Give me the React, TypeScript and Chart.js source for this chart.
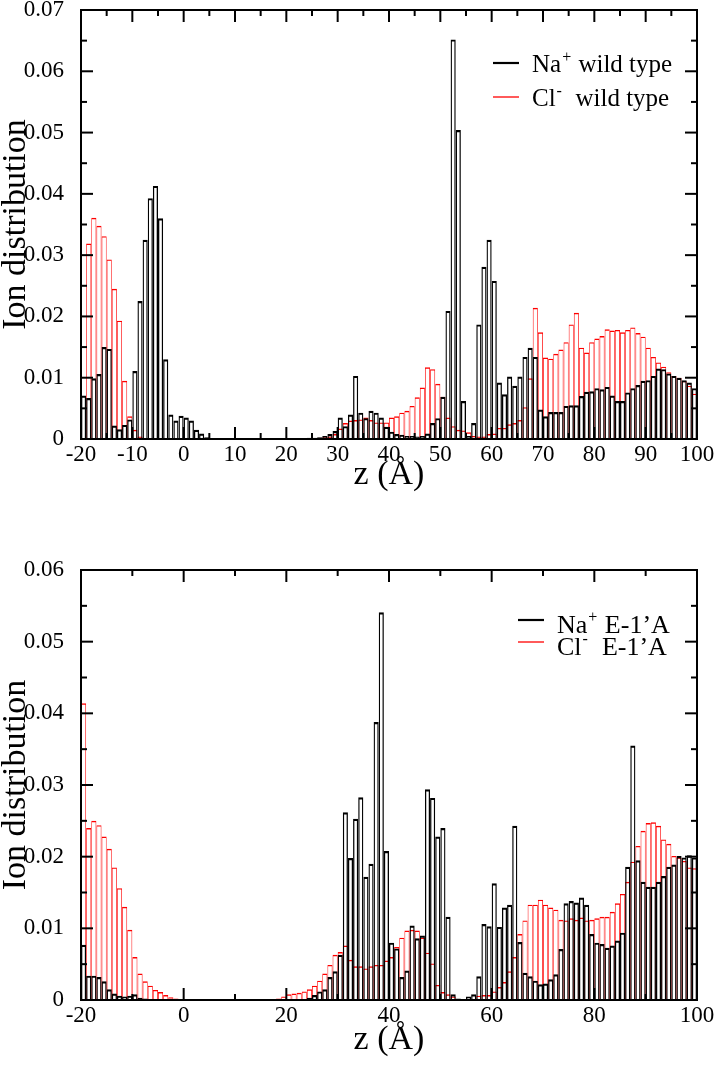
import React, { useEffect, useRef } from "react";
import { Chart, registerables } from "chart.js";

Chart.register(...registerables);

const FONT = "'Liberation Serif', 'Times New Roman', Times, serif";

// Histogram bins: 1 Å wide, first bin starts at z = -20
const BIN_START = -20;
const BIN_WIDTH = 1;

// Top panel (wild type), z = -20 ... 99
const TOP_NA = [
  0.0071, 0.0067, 0.0099, 0.0106, 0.0150, 0.0147, 0.0022, 0.0016, 0.0023, 0.0032,
  0.0111, 0.0225, 0.0325, 0.0393, 0.0413, 0.0360, 0.0130, 0.0040, 0.0030, 0.0038,
  0.0035, 0.0030, 0.0015, 0.0009, 0.0003, 0, 0, 0, 0, 0,
  0, 0, 0, 0, 0, 0, 0, 0, 0, 0,
  0, 0, 0, 0, 0.0002, 0.0002, 0.0003, 0.0005, 0.0008, 0.0013,
  0.0035, 0.0021, 0.0040, 0.0103, 0.0043, 0.0034, 0.0046, 0.0043, 0.0035, 0.0020,
  0.0012, 0.0008, 0.0007, 0.0005, 0.0005, 0.0004, 0.0005, 0.0009, 0.0026, 0.0034,
  0.0069, 0.0209, 0.0652, 0.0504, 0.0062, 0.0005, 0.0026, 0.0187, 0.0281, 0.0325,
  0.0258, 0.0092, 0.0073, 0.0102, 0.0087, 0.0102, 0.0134, 0.0149, 0.0134, 0.0048,
  0.0037, 0.0044, 0.0044, 0.0044, 0.0054, 0.0055, 0.0055, 0.0070, 0.0077, 0.0078,
  0.0083, 0.0081, 0.0085, 0.0071, 0.0062, 0.0062, 0.0076, 0.0083, 0.0088, 0.0095,
  0.0096, 0.0103, 0.0115, 0.0114, 0.0107, 0.0103, 0.0100, 0.0096, 0.0092, 0.0083,
];

const TOP_CL = [
  0, 0.0319, 0.0361, 0.0348, 0.0331, 0.0293, 0.0245, 0.0193, 0.0095, 0.0037,
  0.0015, 0.0004, 0, 0, 0, 0, 0, 0, 0, 0,
  0, 0, 0, 0, 0, 0, 0, 0, 0, 0,
  0, 0, 0, 0, 0, 0, 0, 0, 0, 0,
  0, 0, 0, 0, 0, 0.0001, 0.0002, 0.0003, 0.0004, 0.0008,
  0.0017, 0.0026, 0.0030, 0.0031, 0.0032, 0.0035, 0.0031, 0.0027, 0.0027, 0.0027,
  0.0035, 0.0037, 0.0043, 0.0046, 0.0054, 0.0068, 0.0084, 0.0117, 0.0114, 0.0090,
  0.0069, 0.0035, 0.0021, 0.0015, 0.0014, 0.0011, 0.0005, 0.0004, 0.0004, 0.0008,
  0.0009, 0.0018, 0.0018, 0.0024, 0.0026, 0.0031, 0.0052, 0.0099, 0.0214, 0.0174,
  0.0133, 0.0131, 0.0139, 0.0146, 0.0158, 0.0187, 0.0206, 0.0149, 0.0141, 0.0158,
  0.0164, 0.0168, 0.0179, 0.0177, 0.0178, 0.0174, 0.0178, 0.0182, 0.0173, 0.0167,
  0.0149, 0.0134, 0.0125, 0.0118, 0.0109, 0.0103, 0.0100, 0.0095, 0.0087, 0.0074,
];

// Bottom panel (E-1'A mutant), z = -20 ... 99
const BOT_NA = [
  0.0077, 0.0034, 0.0034, 0.0032, 0.0026, 0.0015, 0.0009, 0.0006, 0.0005, 0.0006,
  0.0008, 0.0003, 0.0002, 0.0001, 0, 0, 0, 0, 0, 0,
  0, 0, 0, 0, 0, 0, 0, 0, 0, 0,
  0, 0, 0, 0, 0, 0, 0, 0, 0, 0,
  0, 0, 0, 0.0001, 0.0003, 0.0007, 0.0012, 0.0015, 0.0032, 0.0040,
  0.0063, 0.0262, 0.0198, 0.0253, 0.0283, 0.0172, 0.0190, 0.0388, 0.0541, 0.0208,
  0.0080, 0.0072, 0.0032, 0.0041, 0.0104, 0.0086, 0.0090, 0.0294, 0.0282, 0.0228,
  0.0240, 0.0116, 0.0008, 0.0002, 0.0001, 0.0005, 0.0008, 0.0033, 0.0106, 0.0103,
  0.0163, 0.0102, 0.0129, 0.0133, 0.0243, 0.0081, 0.0038, 0.0033, 0.0027, 0.0022,
  0.0023, 0.0029, 0.0036, 0.0071, 0.0135, 0.0138, 0.0136, 0.0143, 0.0133, 0.0092,
  0.0080, 0.0078, 0.0073, 0.0076, 0.0083, 0.0094, 0.0186, 0.0355, 0.0195, 0.0165,
  0.0158, 0.0158, 0.0165, 0.0173, 0.0186, 0.0189, 0.0201, 0.0199, 0.0202, 0.0199,
];

const BOT_CL = [
  0.0414, 0.0240, 0.0250, 0.0244, 0.0228, 0.0211, 0.0185, 0.0156, 0.0130, 0.0098,
  0.0060, 0.0037, 0.0026, 0.0020, 0.0014, 0.0011, 0.0007, 0.0004, 0.0002, 0.0001,
  0, 0, 0, 0, 0, 0, 0, 0, 0, 0,
  0, 0, 0, 0, 0, 0, 0, 0, 0.0002, 0.0005,
  0.0008, 0.0009, 0.0010, 0.0012, 0.0015, 0.0020, 0.0027, 0.0037, 0.0049, 0.0063,
  0.0067, 0.0076, 0.0056, 0.0047, 0.0047, 0.0044, 0.0047, 0.0049, 0.0049, 0.0055,
  0.0060, 0.0074, 0.0087, 0.0097, 0.0098, 0.0097, 0.0087, 0.0066, 0.0051, 0.0021,
  0.0011, 0.0008, 0.0005, 0.0001, 0, 0.0001, 0.0001, 0.0006, 0.0007, 0.0007,
  0.0012, 0.0018, 0.0025, 0.0040, 0.0060, 0.0092, 0.0111, 0.0133, 0.0133, 0.0140,
  0.0133, 0.0129, 0.0126, 0.0112, 0.0111, 0.0114, 0.0112, 0.0115, 0.0111, 0.0112,
  0.0114, 0.0116, 0.0116, 0.0123, 0.0135, 0.0148, 0.0165, 0.0193, 0.0215, 0.0236,
  0.0247, 0.0248, 0.0243, 0.0224, 0.0218, 0.0201, 0.0199, 0.0194, 0.0185, 0.0184,
];

const TOP_LABELS = ["Na⁺ wild type", "Cl⁻  wild type"];
const BOT_LABELS = ["Na⁺ E-1’A", "Cl⁻  E-1’A"];
const X_TITLE = "z (Å)";
const Y_TITLE = "Ion distribution";

const X_MIN = -20;
const X_MAX = 100;
const TOP_Y_MAX = 0.07;
const BOT_Y_MAX = 0.06;

const toPoints = (arr: number[]) =>
  arr.map((y, i) => ({ x: BIN_START + (i + 0.5) * BIN_WIDTH, y }));

function drawRich(ctx: CanvasRenderingContext2D, text: string, x: number, y: number, size: number) {
  let cx = x;
  const runs: { t: string; sup: boolean }[] = [];
  for (const ch of text) {
    const sup = ch === "⁺" || ch === "⁻";
    const t = ch === "⁺" ? "+" : ch === "⁻" ? "-" : ch;
    const last = runs[runs.length - 1];
    if (last && last.sup === sup) last.t += t;
    else runs.push({ t, sup });
  }
  for (const r of runs) {
    if (r.sup) {
      ctx.font = `${Math.round(size * 0.62)}px ${FONT}`;
      ctx.fillText(r.t, cx + 1, y - size * 0.42);
      cx += ctx.measureText(r.t).width + 2;
    } else {
      ctx.font = `${size}px ${FONT}`;
      ctx.fillText(r.t, cx, y);
      cx += ctx.measureText(r.t).width;
    }
  }
}

const frameTicksPlugin = {
  id: "frameTicks",
  afterDatasetsDraw(chart: any, _args: any, opts: any) {
    const { ctx, chartArea: a, scales } = chart;
    const xs = scales.x;
    const ys = scales.y;
    ctx.save();
    ctx.strokeStyle = "#000";
    ctx.lineWidth = 2;
    ctx.strokeRect(a.left, a.top, a.right - a.left, a.bottom - a.top);
    const seg = (x0: number, y0: number, x1: number, y1: number) => {
      ctx.beginPath();
      ctx.moveTo(x0, y0);
      ctx.lineTo(x1, y1);
      ctx.stroke();
    };
    const isMajor = (v: number, step: number) => Math.abs(v / step - Math.round(v / step)) < 1e-6;
    for (let k = 0; ; k++) {
      const v = xs.min + k * opts.xMinor;
      if (v > xs.max + 1e-9) break;
      const len = isMajor(v, opts.xMajor) ? 12 : 6;
      const px = xs.getPixelForValue(v);
      seg(px, a.bottom, px, a.bottom - len);
      seg(px, a.top, px, a.top + len);
    }
    for (let k = 0; ; k++) {
      const v = ys.min + k * opts.yMinor;
      if (v > ys.max + 1e-9) break;
      const len = isMajor(v, opts.yMajor) ? 12 : 6;
      const py = ys.getPixelForValue(v);
      seg(a.left, py, a.left + len, py);
      seg(a.right, py, a.right - len, py);
    }
    ctx.restore();
  },
  afterDraw(chart: any, _args: any, opts: any) {
    const { ctx } = chart;
    const lg = opts.legend;
    ctx.save();
    ctx.textBaseline = "alphabetic";
    ctx.textAlign = "left";
    chart.data.datasets.forEach((ds: any, i: number) => {
      const ly = lg.y0 + i * lg.dy;
      ctx.strokeStyle = ds.borderColor;
      ctx.lineWidth = i === 0 ? 2.2 : 1.3;
      ctx.beginPath();
      ctx.moveTo(lg.lineX0, ly);
      ctx.lineTo(lg.lineX1, ly);
      ctx.stroke();
      ctx.fillStyle = "#000";
      drawRich(ctx, ds.label, lg.textX, ly + lg.baseOff, lg.size);
    });
    ctx.restore();
  },
};

type PanelCfg = {
  na: number[];
  cl: number[];
  labels: string[];
  yMax: number;
  xStep: number;
  xMinor: number;
  height: number;
  padTop: number;
  plotBottom: number;
  titlePadBottom: number;
  legend: any;
};

function makeChart(canvas: HTMLCanvasElement, cfg: PanelCfg) {
  const tickFont = { family: FONT, size: 23 };
  const titleFont = { family: FONT, size: 34 };
  return new Chart(canvas, {
    type: "bar",
    data: {
      datasets: [
        {
          label: cfg.labels[0],
          data: toPoints(cfg.na),
          backgroundColor: "rgba(0,0,0,0)",
          borderColor: "#000000",
          borderWidth: { top: 2.2, left: 1.3, right: 1.3, bottom: 0 },
          borderSkipped: false,
          inflateAmount: 0,
          grouped: false,
          barPercentage: 1,
          categoryPercentage: 1,
        } as any,
        {
          label: cfg.labels[1],
          data: toPoints(cfg.cl),
          backgroundColor: "rgba(0,0,0,0)",
          borderColor: "#ff0000",
          borderWidth: { top: 1.4, left: 0.7, right: 0.7, bottom: 0 },
          borderSkipped: false,
          inflateAmount: 0,
          grouped: false,
          barPercentage: 1,
          categoryPercentage: 1,
        } as any,
      ],
    },
    options: {
      responsive: false,
      animation: false,
      devicePixelRatio: 1,
      layout: { padding: { top: cfg.padTop, right: 20, left: 0, bottom: 0 } },
      plugins: {
        legend: { display: false },
        tooltip: { enabled: false },
        frameTicks: { xMajor: cfg.xStep, xMinor: cfg.xMinor, yMajor: 0.01, yMinor: 0.005, legend: cfg.legend },
      } as any,
      scales: {
        x: {
          type: "linear",
          min: X_MIN,
          max: X_MAX,
          offset: false,
          grid: { display: false, drawTicks: false },
          border: { display: false },
          ticks: {
            stepSize: cfg.xStep,
            autoSkip: false,
            maxRotation: 0,
            color: "#000",
            font: tickFont,
            padding: 2,
            callback: (v: any) => String(v),
          },
          title: {
            display: true,
            text: X_TITLE,
            color: "#000",
            font: titleFont,
            padding: { top: 0, bottom: cfg.titlePadBottom },
          },
          afterFit: (s: any) => {
            s.height = cfg.height - cfg.plotBottom;
            s.paddingLeft = 0;
            s.paddingRight = 0;
          },
        },
        y: {
          type: "linear",
          min: 0,
          max: cfg.yMax,
          grid: { display: false, drawTicks: false },
          border: { display: false },
          ticks: {
            stepSize: 0.01,
            color: "#000",
            font: tickFont,
            padding: 17,
            callback: (v: any) => (Math.abs(v) < 1e-9 ? "0" : Number(v).toFixed(2)),
          },
          title: {
            display: true,
            text: Y_TITLE,
            color: "#000",
            font: titleFont,
            padding: { top: -4, bottom: 0 },
          },
          afterFit: (s: any) => {
            s.width = 81;
            s.paddingTop = 0;
            s.paddingBottom = 0;
          },
        },
      },
    } as any,
    plugins: [frameTicksPlugin as any],
  });
}

const TOP_CFG: PanelCfg = {
  na: TOP_NA,
  cl: TOP_CL,
  labels: TOP_LABELS,
  yMax: TOP_Y_MAX,
  xStep: 10,
  xMinor: 5,
  height: 520,
  padTop: 10,
  plotBottom: 439,
  titlePadBottom: 25,
  legend: { lineX0: 493, lineX1: 519, textX: 532, y0: 63, dy: 34, baseOff: 9, size: 25 },
};

const BOT_CFG: PanelCfg = {
  na: BOT_NA,
  cl: BOT_CL,
  labels: BOT_LABELS,
  yMax: BOT_Y_MAX,
  xStep: 20,
  xMinor: 10,
  height: 551,
  padTop: 50,
  plotBottom: 480,
  titlePadBottom: 11,
  legend: { lineX0: 518, lineX1: 544, textX: 557, y0: 100, dy: 22, baseOff: 13, size: 26 },
};

export default function App() {
  const topRef = useRef<HTMLCanvasElement>(null);
  const botRef = useRef<HTMLCanvasElement>(null);

  useEffect(() => {
    const c1 = makeChart(topRef.current!, TOP_CFG);
    const c2 = makeChart(botRef.current!, BOT_CFG);
    return () => {
      c1.destroy();
      c2.destroy();
    };
  }, []);

  return (
    <div style={{ position: "absolute", left: 0, top: 0, width: 717, height: 1071, background: "#fff" }}>
      <canvas
        ref={topRef}
        width={717}
        height={520}
        style={{ position: "absolute", left: 0, top: 0, width: 717, height: 520 }}
      />
      <canvas
        ref={botRef}
        width={717}
        height={551}
        style={{ position: "absolute", left: 0, top: 520, width: 717, height: 551 }}
      />
    </div>
  );
}
